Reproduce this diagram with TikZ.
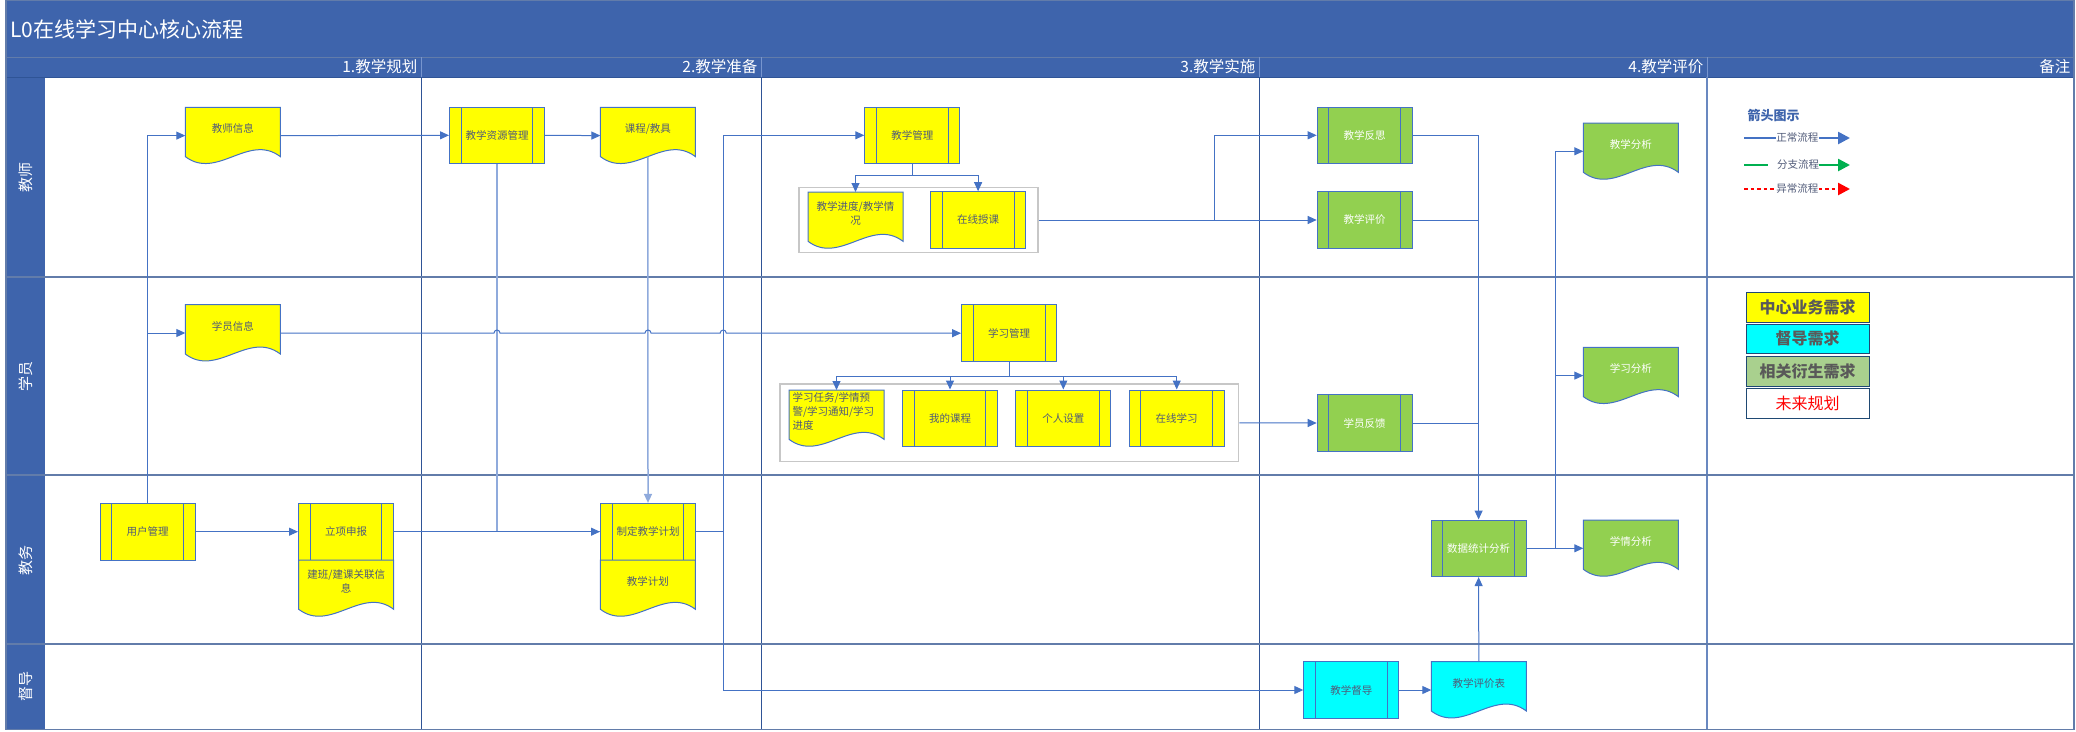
\documentclass[tikz,border=0pt]{standalone}
\usepackage{fontspec}
\setmainfont{Noto Sans CJK SC}
\usetikzlibrary{arrows.meta}
\definecolor{hdblue}{RGB}{62,100,172}
\definecolor{cline}{RGB}{68,114,196}
\definecolor{clight}{RGB}{143,170,220}
\definecolor{lanegr}{RGB}{98,124,170}
\definecolor{phnavy}{RGB}{47,84,150}
\definecolor{cyel}{RGB}{255,255,0}
\definecolor{cgrn}{RGB}{146,208,80}
\definecolor{ccyan}{RGB}{0,255,255}
\definecolor{lggrn}{RGB}{169,208,142}
\definecolor{ctxt}{RGB}{80,90,120}
\definecolor{lgbord}{RGB}{31,73,115}
\definecolor{lgtx}{RGB}{89,89,89}
\definecolor{cgreen}{RGB}{0,176,80}
\begin{document}
\begin{tikzpicture}[x=1pt,y=-1pt,>={Triangle[length=9pt,width=8pt]},
  flow/.style={draw=cline,line width=1pt},
  flowlt/.style={draw=clight,line width=1.5pt},
  ybox/.style={fill=cyel,text=ctxt},
  gbox/.style={fill=cgrn,text=white},
  cbox/.style={fill=ccyan,text=ctxt},
  proc/.style={draw=cline,line width=1pt,minimum width=95pt,minimum height=56.6pt,inner sep=1pt,
    font=\fontsize{10.5}{14}\selectfont,
    path picture={\draw[cline,line width=1pt]
      ([xshift=11.6pt]path picture bounding box.north west) -- ([xshift=11.6pt]path picture bounding box.south west)
      ([xshift=-11.6pt]path picture bounding box.north east) -- ([xshift=-11.6pt]path picture bounding box.south east);}},
  docnode/.style={minimum width=95pt,minimum height=56.6pt,inner sep=0pt,outer sep=0pt},
  doctext/.style={font=\fontsize{10.5}{14}\selectfont,align=center,inner sep=0pt},
  grp/.style={draw=black!22,line width=1.2pt,fill=white},
  lanetx/.style={rotate=90,text=white,font=\fontsize{15}{15}\selectfont},
  phtx/.style={anchor=east,text=white,inner sep=0pt,font=\fontsize{15.5}{15.5}\selectfont},
  lgtxt/.style={text=ctxt,inner sep=0pt,font=\fontsize{10.5}{10.5}\selectfont},
  lgbox/.style={draw=lgbord,line width=1pt,minimum width=123pt,minimum height=30pt,inner sep=0pt,
    text=lgtx,font=\bfseries\fontsize{16}{16}\selectfont}]
 \useasboundingbox (0,0) rectangle (2076,731);
 \def\xL{6}      % borde izq
 \def\xR{2074}   % borde der
 \def\yB{729.3}  % borde inferior
 \def\xC{44.6}   % columna de carriles
 % documento: nombre, x0, y0, estilo, opciones del texto, texto
 \def\docsh#1#2#3#4#5#6{%
  \node[docnode,anchor=north west] (#1) at (#2,#3) {};
  \path[draw=cline,line width=1pt,#4] (#1.north west) -- (#1.north east) -- ([yshift=7.3pt]#1.south east)
    .. controls +(-31.7,-24) and +(31.7,24) .. ([yshift=7.3pt]#1.south west) -- cycle;
  \node[doctext,#4,fill=none,#5] at ([yshift=7pt]#1.center) {#6};}
 % marco y cabecera
 \fill[hdblue] (\xL,0) rectangle (\xR,77);
 \fill[hdblue] (\xL,77) rectangle (\xC,\yB);
 \draw[lanegr,line width=0.8pt] (\xL,57) -- (\xR,57);
 \draw[phnavy,line width=0.8pt] (\xL,77) -- (\xR,77);
 \foreach \x in {421.4,761,1259,1707} \draw[clight!70!hdblue,line width=0.8pt] (\x,57) -- (\x,77);
 \foreach \x in {421.4,761,1259} \draw[phnavy,line width=1pt] (\x,77) -- (\x,\yB);
 \draw[clight!60!phnavy,line width=1.5pt] (1707,77) -- (1707,\yB);
 \foreach \y in {277,475,644.3} \draw[lanegr,line width=2pt] (\xL,\y) -- (\xR,\y);
 \draw[lanegr,line width=1.5pt] (\xL,0) rectangle (\xR,\yB);
 \node[anchor=west,text=white,inner sep=0pt,font=\fontsize{21}{21}\selectfont] (ttl) at (10,29) {L0在线学习中心核心流程};
 \node[phtx] (ph1) at (417.5,67) {1.教学规划};
 \node[phtx] (ph2) at (757.5,67) {2.教学准备};
 \node[phtx] (ph3) at (1255.5,67) {3.教学实施};
 \node[phtx] (ph4) at (1703.5,67) {4.教学评价};
 \node[phtx] (ph5) at (2070.5,67) {备注};
 \node[lanetx] (ln1) at (25.7,177) {教师};
 \node[lanetx] (ln2) at (25.7,376) {学员};
 \node[lanetx] (ln3) at (25.7,560) {教务};
 \node[lanetx] (ln4) at (25.7,686.7) {督导};
 % grupos
 \node[grp,minimum width=239pt,minimum height=65pt] (g1) at (918.5,220) {};
 \node[grp,minimum width=458.8pt,minimum height=77.7pt] (g2) at (1009.4,422.9) {};
 % procesos
 \node[proc,ybox] (jxzy) at (497,135.3) {教学资源管理};
 \node[proc,ybox] (jxgl) at (912.3,135.3) {教学管理};
 \node[proc,ybox] (zxsk) at (978.1,220) {在线授课};
 \node[proc,gbox] (jxfs) at (1364.7,135.3) {教学反思};
 \node[proc,gbox] (jxpj) at (1364.7,220) {教学评价};
 \node[proc,ybox] (xxgl) at (1009.1,333.2) {学习管理};
 \node[proc,ybox] (wdkc) at (950,418.3) {我的课程};
 \node[proc,ybox] (grsz) at (1063.3,418.3) {个人设置};
 \node[proc,ybox] (zxxx) at (1176.7,418.3) {在线学习};
 \node[proc,gbox] (xyfk) at (1364.7,423) {学员反馈};
 \node[proc,ybox] (yhgl) at (147.7,531.7) {用户管理};
 \node[proc,ybox] (lxsb) at (346,531.7) {立项申报};
 \node[proc,ybox] (zdjh) at (648,531.7) {制定教学计划};
 \node[proc,cbox] (jxdd) at (1351.3,690) {教学督导};
 \node[proc,gbox] (sjtj) at (1478.6,548.3) {数据统计分析};
 % documentos
 \docsh{jsxx}{185.3}{107.3}{ybox}{}{教师信息}
 \docsh{kcjj}{600.4}{107.3}{ybox}{}{课程/教具}
 \docsh{jxjd}{808}{192}{ybox}{}{教学进度/教学情\\况}
 \docsh{xyxx}{185.3}{304.7}{ybox}{}{学员信息}
 \docsh{xxrw}{789}{390}{ybox}{text width=88pt,align=left}{学习任务/学情预\\警/学习通知/学习\\进度}
 \docsh{jxfx}{1583.3}{123}{gbox}{}{教学分析}
 \docsh{xxfx}{1583.3}{347.3}{gbox}{}{学习分析}
 \docsh{xqfx}{1583.3}{520}{gbox}{}{学情分析}
 \docsh{jbxx}{298.7}{560}{ybox}{}{建班/建课关联信\\息}
 \docsh{jxjh}{600.4}{560}{ybox}{}{教学计划}
 \docsh{pjb}{1431.3}{661.7}{cbox}{}{教学评价表}
 % flujos
 \draw[flow,->] (yhgl.north) |- (jsxx.west);
 \draw[flow,->] (yhgl.north) |- (xyxx.west);
 \draw[flow,->] (jsxx.east) -- (jxzy.west);
 \draw[flow,->] (jxzy.east) -- (kcjj.west);
 \draw[flow,->] (yhgl.east) -- (lxsb.west);
 \draw[flowlt] (jxzy.south) |- (zdjh.west);
 \draw[flow,->] (lxsb.east) -- (zdjh.west);
 \draw[flowlt,->] ([yshift=7.3pt]kcjj.south) -- (zdjh.north);
 \coordinate (vj) at (723.2,531.7);
 \draw[flow] (zdjh.east) -- (vj);
 \draw[flow,->] (vj) |- (jxgl.west);
 \draw[flow,->] (vj) |- (jxdd.west);
 % saltos de linea
 \coordinate (c1) at (xyxx.east -| jxzy.south);
 \coordinate (c2) at (xyxx.east -| zdjh.north);
 \coordinate (c3) at (xyxx.east -| vj);
 \draw[flow,->] (xyxx.east) -- ([xshift=-3pt]c1) arc[start angle=180,end angle=0,radius=3pt]
   -- ([xshift=-3pt]c2) arc[start angle=180,end angle=0,radius=3pt]
   -- ([xshift=-3pt]c3) arc[start angle=180,end angle=0,radius=3pt] -- (xxgl.west);
 \draw[flow,->] (jxgl.south) -- ++(0,11) -| (jxjd.north);
 \draw[flow,->] (jxgl.south) -- ++(0,11) -| (zxsk.north);
 \foreach \n in {xxrw,wdkc,grsz,zxxx} \draw[flow,->] (xxgl.south) -- ++(0,14.3) -| (\n.north);
 \coordinate (b1) at ([xshift=176pt]g1.east);
 \draw[flow,->] (g1.east) -- (jxpj.west);
 \draw[flow,->] (b1) |- (jxfs.west);
 \draw[flow,->] (g2.east) -- (xyfk.west);
 \draw[flow,->] (jxfs.east) -| (sjtj.north);
 \draw[flow] (jxpj.east) -- (jxpj.east -| sjtj.north);
 \draw[flow] (xyfk.east) -- (xyfk.east -| sjtj.north);
 \coordinate (b2) at ([xshift=29pt]sjtj.east);
 \draw[flow,->] (sjtj.east) -- (xqfx.west);
 \draw[flow,->] (b2) |- (jxfx.west);
 \draw[flow,->] (b2) |- (xxfx.west);
 \draw[flow,->] (jxdd.east) -- (pjb.west);
 \draw[flow,->] (pjb.north) -- (sjtj.south);
 % leyenda
 \node[text=hdblue,inner sep=0pt,font=\bfseries\fontsize{13}{13}\selectfont] (lgt) at (1773.5,115) {箭头图示};
 \node[lgtxt] (lg1) at (1797.4,138) {正常流程};
 \node[lgtxt] (lg2) at (1798,165) {分支流程};
 \node[lgtxt] (lg3) at (1797.4,189) {异常流程};
 \coordinate (lg1a) at (1744,138); \coordinate (lg1b) at (1850,138);
 \coordinate (lg2a) at (1744,165); \coordinate (lg2c) at (1768,165); \coordinate (lg2b) at (1850,165);
 \coordinate (lg3a) at (1744,189); \coordinate (lg3b) at (1850,189);
 \draw[cline,line width=2.5pt] (lg1a) -- (lg1.west);
 \draw[cline,line width=2.5pt,-{Triangle[length=12pt,width=12pt]}] (lg1.east) -- (lg1b);
 \draw[cgreen,line width=2.5pt] (lg2a) -- (lg2c);
 \draw[cgreen,line width=2.5pt,-{Triangle[length=12pt,width=12pt]}] (lg2.east) -- (lg2b);
 \draw[red,line width=2.5pt,dash pattern=on 3.5pt off 3pt] (lg3a) -- (lg3.west);
 \draw[red,line width=2.5pt,dash pattern=on 3.5pt off 3pt,-{Triangle[length=12pt,width=12pt,sep=0pt]}] (lg3.east) -- (lg3b);
 \node[lgbox,fill=cyel] (lb1) at (1807.5,307.3) {中心业务需求};
 \node[lgbox,fill=ccyan,minimum height=29pt] (lb2) at (1807.5,338.8) {督导需求};
 \node[lgbox,fill=lggrn] (lb3) at (1807.5,371) {相关衍生需求};
 \node[lgbox,fill=white,text=red,font=\fontsize{16}{16}\selectfont] (lb4) at (1807.5,403.3) {未来规划};
\end{tikzpicture}
\end{document}
